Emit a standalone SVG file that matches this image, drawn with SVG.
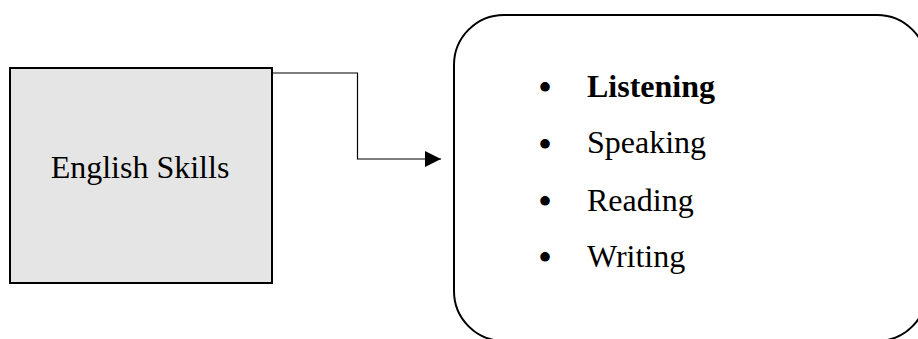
<svg xmlns="http://www.w3.org/2000/svg" width="918" height="339" viewBox="0 0 918 339">
<style>
.t{font-family:"Liberation Serif","Times New Roman",serif;font-size:32px;fill:#000}
.b{font-family:"Liberation Serif","Times New Roman",serif;font-size:40px;fill:#000}
</style>
<defs>
<marker id="arr" markerWidth="16" markerHeight="16" refX="16" refY="8" orient="auto" markerUnits="userSpaceOnUse">
<path d="M0,0 L16,8 L0,16 Z" fill="#000"/>
</marker>
</defs>
<rect width="918" height="339" fill="#fff"/>
<g id="connectors">
<path d="M272,73 H357.5 V159 H441" fill="none" stroke="#000" stroke-width="1.2" marker-end="url(#arr)"/>
</g>
<g id="english-skills">
<rect x="10" y="68" width="262" height="215" fill="#e5e5e5" stroke="#000" stroke-width="2"/>
<text class="t" x="140" y="178" text-anchor="middle">English Skills</text>
</g>
<g id="skills-list">
<rect x="454" y="15" width="473" height="326" rx="50" ry="50" fill="#fff" stroke="#000" stroke-width="2"/>
<text class="b" x="545" y="101" text-anchor="middle">•</text>
<text class="t" x="587" y="97" font-weight="bold">Listening</text>
<text class="b" x="545" y="157.5" text-anchor="middle">•</text>
<text class="t" x="587" y="153">Speaking</text>
<text class="b" x="545" y="214.5" text-anchor="middle">•</text>
<text class="t" x="587" y="210.5">Reading</text>
<text class="b" x="545" y="271" text-anchor="middle">•</text>
<text class="t" x="587" y="267">Writing</text>
</g>
</svg>
